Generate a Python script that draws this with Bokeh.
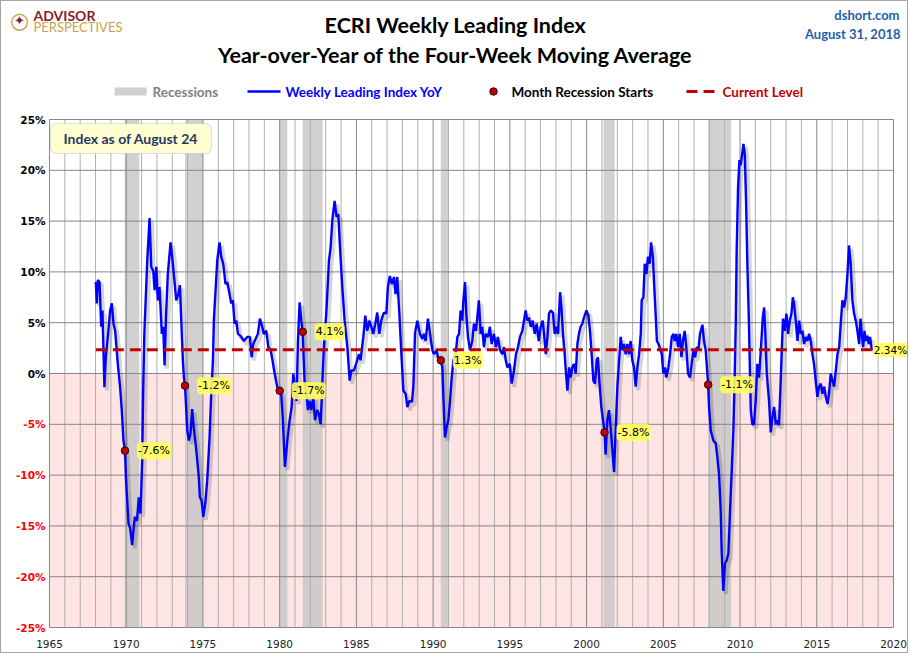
from bokeh.plotting import figure
from bokeh.layouts import column
from bokeh.models import (ColumnDataSource, Range1d, SingleIntervalTicker, LabelSet, Label,
                          BoxAnnotation)
from bokeh.transform import dodge
from bokeh.core.properties import value, field
from bokeh.embed import file_html
from bokeh.resources import INLINE

# ---------------- data ----------------
yoy_dates = [
    1968.02, 1968.08, 1968.15, 1968.26, 1968.37, 1968.45, 1968.58, 1968.67, 1968.80, 1968.95,
    1969.06, 1969.17, 1969.28, 1969.45, 1969.60, 1969.71, 1969.82, 1969.92, 1969.98, 1970.10,
    1970.15, 1970.25, 1970.39, 1970.47, 1970.56, 1970.70, 1970.82, 1970.93, 1971.04, 1971.10,
    1971.18, 1971.37, 1971.52, 1971.63, 1971.76, 1971.85, 1971.96, 1972.06, 1972.17, 1972.32,
    1972.41, 1972.50, 1972.60, 1972.71, 1972.89, 1973.00, 1973.10, 1973.26, 1973.39, 1973.50,
    1973.58, 1973.69, 1973.76, 1973.83, 1973.98, 1974.08, 1974.19, 1974.30, 1974.40, 1974.52,
    1974.63, 1974.73, 1974.80, 1974.91, 1975.02, 1975.15, 1975.28, 1975.43, 1975.54, 1975.65,
    1975.71, 1975.93, 1976.08, 1976.19, 1976.32, 1976.47, 1976.58, 1976.69, 1976.84, 1976.95,
    1977.06, 1977.17, 1977.28, 1977.45, 1977.67, 1977.89, 1978.06, 1978.17, 1978.28, 1978.43,
    1978.58, 1978.71, 1978.86, 1978.97, 1979.13, 1979.26, 1979.41, 1979.52, 1979.67, 1979.84,
    1980.00, 1980.10, 1980.21, 1980.34, 1980.50, 1980.65, 1980.78, 1980.89, 1980.97, 1981.10,
    1981.19, 1981.30, 1981.41, 1981.50, 1981.56, 1981.62, 1981.75, 1981.84, 1981.95, 1982.06,
    1982.19, 1982.30, 1982.45, 1982.56, 1982.67, 1982.78, 1982.88, 1983.06, 1983.21, 1983.32,
    1983.43, 1983.58, 1983.71, 1983.82, 1983.93, 1984.08, 1984.23, 1984.41, 1984.56, 1984.67,
    1984.84, 1985.01, 1985.17, 1985.27, 1985.45, 1985.58, 1985.71, 1985.84, 1985.97, 1986.10,
    1986.23, 1986.36, 1986.49, 1986.62, 1986.79, 1986.95, 1987.05, 1987.18, 1987.31, 1987.45,
    1987.55, 1987.66, 1987.80, 1987.93, 1988.06, 1988.21, 1988.32, 1988.45, 1988.62, 1988.71,
    1988.82, 1988.97, 1989.14, 1989.30, 1989.40, 1989.51, 1989.66, 1989.80, 1989.95, 1990.05,
    1990.23, 1990.31, 1990.50, 1990.60, 1990.66, 1990.77, 1990.88, 1990.99, 1991.10, 1991.21,
    1991.32, 1991.47, 1991.58, 1991.69, 1991.79, 1991.90, 1991.97, 1992.08, 1992.16, 1992.27,
    1992.40, 1992.55, 1992.66, 1992.79, 1992.88, 1992.98, 1993.10, 1993.20, 1993.31, 1993.42,
    1993.57, 1993.70, 1993.81, 1993.96, 1994.10, 1994.22, 1994.36, 1994.51, 1994.62, 1994.73,
    1994.84, 1994.99, 1995.12, 1995.27, 1995.40, 1995.53, 1995.66, 1995.81, 1995.92, 1996.03,
    1996.14, 1996.25, 1996.36, 1996.49, 1996.62, 1996.75, 1996.88, 1997.01, 1997.14, 1997.23,
    1997.34, 1997.45, 1997.55, 1997.66, 1997.81, 1997.92, 1998.03, 1998.14, 1998.27, 1998.36,
    1998.46, 1998.57, 1998.66, 1998.75, 1998.86, 1998.96, 1999.07, 1999.18, 1999.29, 1999.40,
    1999.50, 1999.61, 1999.72, 1999.83, 1999.99, 2000.12, 2000.22, 2000.33, 2000.44, 2000.55,
    2000.66, 2000.74, 2000.83, 2000.96, 2001.07, 2001.17, 2001.24, 2001.35, 2001.46, 2001.57,
    2001.68, 2001.79, 2001.90, 2002.01, 2002.12, 2002.22, 2002.33, 2002.44, 2002.55, 2002.66,
    2002.76, 2002.87, 2002.98, 2003.09, 2003.20, 2003.31, 2003.42, 2003.53, 2003.59, 2003.70,
    2003.79, 2003.90, 2004.00, 2004.11, 2004.20, 2004.32, 2004.41, 2004.52, 2004.58, 2004.69,
    2004.79, 2004.90, 2005.00, 2005.11, 2005.20, 2005.33, 2005.44, 2005.55, 2005.66, 2005.74,
    2005.85, 2005.96, 2006.07, 2006.18, 2006.28, 2006.39, 2006.50, 2006.61, 2006.74, 2006.85,
    2006.96, 2007.07, 2007.18, 2007.29, 2007.39, 2007.55, 2007.65, 2007.76, 2007.87, 2007.92,
    2007.98, 2008.09, 2008.26, 2008.42, 2008.52, 2008.63, 2008.74, 2008.80, 2008.91, 2009.02,
    2009.13, 2009.24, 2009.35, 2009.46, 2009.57, 2009.65, 2009.72, 2009.78, 2009.87, 2009.96,
    2010.04, 2010.13, 2010.22, 2010.31, 2010.39, 2010.48, 2010.57, 2010.63, 2010.70, 2010.80,
    2010.91, 2011.02, 2011.13, 2011.24, 2011.39, 2011.48, 2011.57, 2011.65, 2011.74, 2011.89,
    2012.00, 2012.11, 2012.22, 2012.33, 2012.44, 2012.54, 2012.65, 2012.72, 2012.80, 2012.91,
    2013.02, 2013.13, 2013.24, 2013.35, 2013.44, 2013.52, 2013.63, 2013.74, 2013.85, 2013.96,
    2014.07, 2014.17, 2014.28, 2014.39, 2014.50, 2014.61, 2014.72, 2014.82, 2014.93, 2015.04,
    2015.15, 2015.26, 2015.37, 2015.48, 2015.59, 2015.70, 2015.80, 2015.91, 2016.02, 2016.13,
    2016.24, 2016.35, 2016.46, 2016.56, 2016.67, 2016.78, 2016.89, 2017.00, 2017.10, 2017.21,
    2017.32, 2017.43, 2017.54, 2017.65, 2017.76, 2017.85, 2017.93, 2018.02, 2018.11, 2018.19,
    2018.30, 2018.39, 2018.47, 2018.58, 2018.65,
]
yoy_values = [
    9.0, 6.9, 9.2, 9.0, 4.6, 6.2, -1.35, 1.6, 3.6, 6.2,
    6.9, 4.9, 4.2, 0.95, -1.35, -3.6, -6.6, -7.6, -10.2, -13.5,
    -14.8, -15.2, -16.9, -15.5, -14.1, -14.5, -12.2, -13.8, -8.6, -2.0,
    3.9, 11.1, 15.3, 10.5, 10.1, 8.2, 10.5, 7.2, 8.5, 3.9,
    4.6, 0.8, 5.9, 9.8, 12.9, 11.4, 9.8, 7.2, 7.8, 8.7,
    5.5, 1.3, -0.4, -1.2, -5.6, -6.6, -5.9, -3.5, -5.3, -6.9,
    -8.6, -10.2, -12.2, -12.5, -14.1, -12.8, -10.5, -6.3, -2.0, 1.3,
    5.2, 11.1, 12.9, 11.5, 10.8, 8.8, 9.0, 8.2, 6.9, 7.2,
    4.9, 5.2, 3.9, 3.7, 3.2, 3.6, 3.6, 1.6, 2.9, 3.4,
    3.9, 5.4, 4.6, 3.9, 4.2, 2.6, 2.3, 1.4, 0.0, -1.3,
    -1.7, -2.0, -4.6, -9.2, -6.6, -4.6, -3.3, 0.0, -1.3, -2.7,
    3.2, 7.0, 5.2, 4.1, 1.6, -0.7, -2.0, -3.6, -2.7, -3.6,
    -2.3, -4.6, -3.6, -4.0, -5.0, -1.0, 2.6, 6.5, 11.1, 12.4,
    15.1, 17.0, 15.4, 15.7, 12.4, 8.5, 5.2, 2.6, -0.7, 0.3,
    0.3, 1.1, 1.9, 1.3, 3.6, 5.7, 4.2, 5.2, 4.6, 3.9,
    4.9, 6.0, 3.9, 5.2, 6.0, 5.9, 8.5, 9.6, 8.8, 9.5,
    7.8, 9.5, 5.9, 1.9, -1.7, -2.0, -3.3, -2.7, -2.8, -1.3,
    4.0, 5.2, 3.9, 3.4, 3.9, 3.2, 5.4, 3.9, 2.3, 1.9,
    2.3, 1.6, 1.3, 0.6, -2.0, -6.3, -5.3, -4.6, -2.7, -0.4,
    1.3, 1.9, 3.6, 3.9, 6.2, 5.2, 7.2, 9.0, 5.9, 3.6,
    2.3, 3.2, 4.9, 4.2, 5.5, 7.2, 3.9, 4.6, 2.6, 3.9,
    3.6, 4.6, 2.9, 3.9, 2.6, 3.6, 2.3, 1.9, 2.6, 1.3,
    0.6, 0.95, -1.0, 0.3, 1.9, 2.6, 3.6, 4.2, 5.2, 6.2,
    5.2, 5.5, 4.6, 5.2, 3.9, 4.9, 3.2, 4.6, 5.2, 3.9,
    1.9, 3.6, 5.9, 6.2, 6.0, 3.9, 4.6, 3.9, 8.0, 6.5,
    3.9, 1.9, 0.0, -1.7, 0.6, -0.4, 0.6, 0.95, 0.0, 2.9,
    3.9, 4.6, 4.9, 5.5, 6.2, 5.7, 4.2, 1.9, -0.7, -1.0,
    1.3, 1.6, -0.7, -3.3, -4.6, -5.8, -8.0, -4.6, -3.6, -5.3,
    -7.6, -9.7, -5.3, -1.2, 1.3, 3.6, 2.3, 2.9, 1.9, 2.9,
    1.9, 3.2, 1.3, 0.6, -1.3, 0.6, 1.9, 3.9, 7.2, 7.5,
    10.8, 9.8, 11.5, 10.8, 12.9, 11.5, 8.5, 5.2, 3.2, 2.9,
    2.4, 1.9, 0.0, 0.6, -0.4, 0.6, 1.9, 3.6, 3.9, 3.2,
    3.9, 2.6, 3.9, 1.6, 3.2, 4.2, 2.6, 0.0, -0.4, 0.95,
    2.3, 1.6, 2.6, 2.4, 3.9, 4.8, 3.2, 2.3, 0.0, -1.1,
    -3.3, -5.6, -6.6, -6.9, -8.2, -9.9, -13.5, -17.4, -21.4, -18.7,
    -18.4, -17.7, -13.5, -9.5, -5.3, -0.4, 4.9, 12.1, 18.3, 21.0,
    20.5, 21.5, 22.6, 21.6, 17.0, 10.5, 5.5, 1.3, -3.6, -5.0,
    -5.0, -2.7, 0.95, -0.4, 3.2, 5.5, 6.5, 3.9, 0.0, -2.7,
    -5.8, -4.3, -3.3, -5.0, -4.6, -5.1, -0.7, 2.3, 5.4, 4.2,
    5.9, 3.9, 5.2, 5.9, 7.5, 6.9, 5.2, 3.2, 5.2, 3.9,
    4.2, 2.9, 3.6, 3.2, 3.9, 3.2, 1.9, 0.95, -0.7, -2.3,
    -1.3, -1.0, -2.0, -1.3, -2.3, -3.0, -2.0, 0.0, -0.7, -1.3,
    0.3, 1.9, 2.6, 4.9, 7.2, 6.5, 7.5, 9.8, 12.6, 10.8,
    7.2, 5.9, 5.2, 4.2, 2.9, 5.4, 3.9, 2.6, 4.2, 3.2,
    3.7, 2.9, 3.6, 2.4, 2.34,
]

recession_begin = [1969.90, 1973.83, 1980.00, 1981.50, 1990.50, 2001.10, 2007.92]
recession_end = [1970.85, 1975.00, 1980.50, 1982.80, 1991.00, 2001.83, 2009.42]

start_dates = [1969.92, 1973.83, 1980.00, 1981.50, 1990.50, 2001.17, 2007.92]
start_values = [-7.6, -1.2, -1.7, 4.1, 1.3, -5.8, -1.1]
start_labels = ["-7.6%", "-1.2%", "-1.7%", "4.1%", "1.3%", "-5.8%", "-1.1%"]

current_level = 2.34
current_label = "2.34%"

x_min, x_max = 1965, 2020
y_min, y_max = -25, 25
y_ticks = [25, 20, 15, 10, 5, 0, -5, -10, -15, -20, -25]
y_tick_labels = ["25%", "20%", "15%", "10%", "5%", "0%", "-5%", "-10%", "-15%", "-20%", "-25%"]
major_years = list(range(x_min, x_max + 1, 5))
minor_years = [yr for yr in range(x_min, x_max + 1) if yr % 5 != 0]

legend_labels = ["Recessions", "Weekly Leading Index YoY", "Month Recession Starts", "Current Level"]

# ---------------- layout constants (pixels) ----------------
W = 906            # canvas width
HDR_H = 110        # header height
MAIN_H = 541       # main figure height
PLOT_L, PLOT_R = 48, 892          # plot box, canvas pixels
PAD_Y = 8                          # room above / below the plot box for tick labels
px_per_year = (PLOT_R - PLOT_L) / (x_max - x_min)
px_per_pct = 508 / (y_max - y_min)
x_lo = x_min - PLOT_L / px_per_year
x_hi = x_min + (W - PLOT_L) / px_per_year
y_lo = y_min - PAD_Y / px_per_pct
y_hi = y_max + PAD_Y / px_per_pct

# ---------------- header ----------------
hdr = figure(width=W, height=HDR_H, x_range=Range1d(0, W), y_range=Range1d(HDR_H, 0),
             x_axis_type=None, y_axis_type=None, output_backend="svg",
             toolbar_location=None, min_border=0)
hdr.outline_line_color = None
hdr.background_fill_color = "white"
hdr.border_fill_color = "white"


def htext(text, x, y, align, size, color, style="normal", font="Lato"):
    hdr.add_layout(Label(x=x, y=y, text=text, text_align=align, text_baseline="middle",
                         text_font=font, text_font_size=size, text_font_style=style,
                         text_color=color))


htext("ECRI Weekly Leading Index", 454, 23, "center", "21.5px", "#000000", "bold")
htext("Year-over-Year of the Four-Week Moving Average", 454, 53, "center", "21.5px",
      "#000000", "bold")
htext("dshort.com", 898, 13, "right", "13px", "#1f5fa8", "bold")
htext("August 31, 2018", 899, 32, "right", "13px", "#1f5fa8", "bold")
htext("ADVISOR", 32, 14, "left", "14px", "#8b1a2b", "bold")
htext("PERSPECTIVES", 32, 25, "left", "13px", "#c9a04e")
htext("\u25cb", 18, 19, "center", "22px", "#c9a04e", "normal", "DejaVu Sans")
htext("\u2726", 18, 19, "center", "13px", "#8b1a2b", "normal", "DejaVu Sans")

# legend row (swatches + labels)
LEG_Y = 90
hdr.quad(left=[113], right=[145], top=[LEG_Y - 4], bottom=[LEG_Y + 4], fill_color="#d0d0d0",
         line_color=None)
hdr.line(x=[246, 279], y=[LEG_Y, LEG_Y], line_color="#0000ff", line_width=2.4)
hdr.scatter(x=[492], y=[LEG_Y], size=7.5, fill_color="#c00000", line_color="#2a0000")
hdr.line(x=[685, 713], y=[LEG_Y, LEG_Y], line_color="#c00000", line_width=3.2, line_dash="11 6")
for txt, lx, col in zip(legend_labels, [151, 284, 510, 721],
                        ["#808080", "#0000ff", "#000000", "#c00000"]):
    htext(txt, lx, LEG_Y, "left", "13.5px", col, "bold")

# ---------------- main chart ----------------
p = figure(width=W, height=MAIN_H, output_backend="svg", toolbar_location=None,
           x_range=Range1d(x_lo, x_hi), y_range=Range1d(y_lo, y_hi), y_axis_type=None,
           min_border_left=0, min_border_right=0, min_border_top=0, min_border_bottom=17)
p.background_fill_color = "white"
p.border_fill_color = "white"
p.outline_line_color = None

p.xaxis.ticker = SingleIntervalTicker(interval=5)
p.xaxis.bounds = (x_min, x_max)
p.xaxis.axis_line_color = None
p.xaxis.major_tick_out = 0
p.xaxis.major_tick_in = 0
p.xaxis.minor_tick_out = 0
p.xaxis.minor_tick_in = 0
p.xaxis.major_label_text_font = "DejaVu Sans"
p.xaxis.major_label_text_font_size = "10.5px"
p.xaxis.major_label_text_color = "#222222"
p.xaxis.major_label_standoff = 4
p.xgrid.visible = False

# negative zone
p.quad(left=[x_min], right=[x_max], bottom=[y_min], top=[0], fill_color="#ffe4e4",
       line_color=None, level="image")
# recessions
rec_src = ColumnDataSource(dict(left=recession_begin, right=recession_end))
p.quad(left="left", right="right", bottom=y_min, top=y_max, source=rec_src,
       fill_color="#c4c4c4", fill_alpha=0.78, line_color=None, level="image")
# grid lines limited to the plot box
p.segment(x0=minor_years, x1=minor_years, y0=y_min, y1=y_max, line_color="#b0b0b0",
          line_width=1, level="underlay")
p.segment(x0=major_years, x1=major_years, y0=y_min, y1=y_max, line_color="#868686",
          line_width=1, level="underlay")
p.segment(x0=x_min, x1=x_max, y0=y_ticks, y1=y_ticks, line_color="#868686",
          line_width=1, level="underlay")

# index line with shadow
src = ColumnDataSource(dict(x=yoy_dates, y=yoy_values))
p.line(x=dodge("x", 0.16, range=p.x_range), y=dodge("y", -0.32, range=p.y_range), source=src,
       line_color="#000000", line_alpha=0.16, line_width=4)
p.line(x="x", y="y", source=src, line_color="#0000ff", line_width=2.4)

# current level
p.line(x=[yoy_dates[0], yoy_dates[-1]], y=[current_level, current_level],
       line_color="#c00000", line_width=3.2, line_dash="11 6")

# recession start dots
dot_src = ColumnDataSource(dict(x=start_dates, y=start_values))
p.scatter(x="x", y="y", source=dot_src, size=7.5, fill_color="#c00000",
          line_color="#2a0000", line_width=1)

# value labels
for xd, yv, t in zip(start_dates, start_values, start_labels):
    p.add_layout(Label(x=xd, y=yv, text=t, x_offset=12, text_baseline="middle",
                       text_font="DejaVu Sans", text_font_size="11px", text_color="#000000",
                       background_fill_color="#ffff5a", background_fill_alpha=0.9,
                       padding=(1, 2), border_radius=4))
p.add_layout(Label(x=yoy_dates[-1], y=current_level, text=current_label, x_offset=0,
                   text_baseline="middle", text_font="DejaVu Sans", text_font_size="10.5px",
                   text_color="#000000", background_fill_color="#ffff5a",
                   background_fill_alpha=0.9, padding=(1, 1), border_radius=3))

# y tick labels (black positive, red negative)
ytl_src = ColumnDataSource(dict(
    x=[x_min] * len(y_ticks), y=y_ticks, t=y_tick_labels,
    c=["#000000" if v >= 0 else "#ff0000" for v in y_ticks]))
p.add_layout(LabelSet(x="x", y="y", text="t", source=ytl_src, x_offset=-4,
                      text_align="right", text_baseline="middle",
                      text_font=value("DejaVu Sans"), text_font_size=value("10.5px"),
                      text_font_style=value("bold"), text_color=field("c")))

# info box
p.add_layout(BoxAnnotation(left=x_min + 1 / px_per_year, right=x_min + 162 / px_per_year,
                           top=y_max - 4 / px_per_pct, bottom=y_max - 34 / px_per_pct,
                           fill_color="#ffffd2", fill_alpha=1.0, line_color="#7f9fcb",
                           line_width=1.2, border_radius=6))
p.add_layout(Label(x=x_min, y=y_max - 19 / px_per_pct, x_offset=14,
                   text="Index as of August 24", text_baseline="middle", text_font="Lato",
                   text_font_size="14px", text_font_style="bold", text_color="#1f3864"))

layout = column(hdr, p, spacing=0, styles={"border": "1px solid #a6a6a6"})
open("out.html", "w").write(file_html(layout, INLINE))
